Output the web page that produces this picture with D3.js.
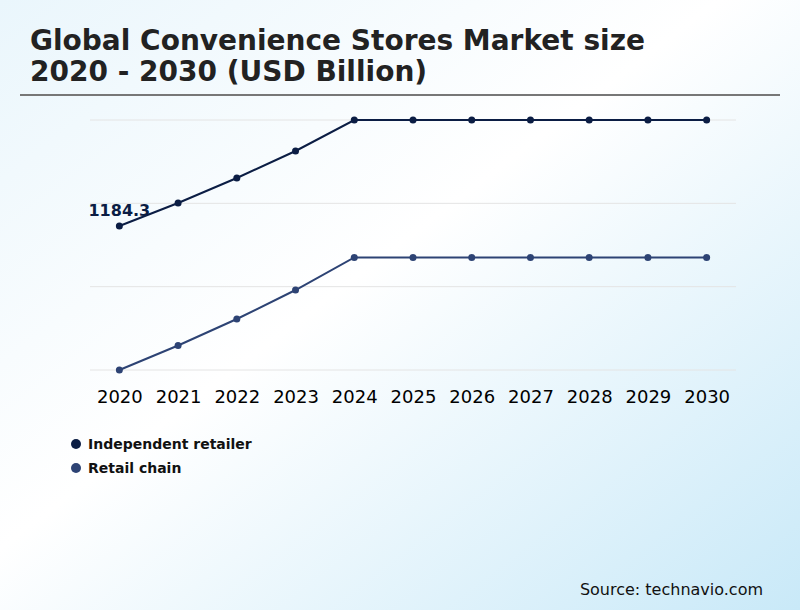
<!DOCTYPE html>
<html>
<head>
<meta charset="utf-8">
<script src="https://cdn.jsdelivr.net/npm/d3@7"></script>
<style>
  body { margin: 0; }
  svg { display: block; font-family: "DejaVu Sans", sans-serif; }
</style>
</head>
<body>
<script>
var svgW = 800;
var svgH = 610;

// data
var years = ["2020", "2021", "2022", "2023", "2024", "2025", "2026", "2027", "2028", "2029", "2030"];
var independent = [1184.3, 1230.3, 1280.3, 1334.3, 1396.3, 1396.3, 1396.3, 1396.3, 1396.3, 1396.3, 1396.3];
var retailChain = [896.3, 945.3, 998.3, 1056.3, 1121.3, 1121.3, 1121.3, 1121.3, 1121.3, 1121.3, 1121.3];
var seriesNames = ["Independent retailer", "Retail chain"];
var seriesColors = ["#0b1d44", "#2d4374"];

var series = [independent, retailChain];

var svg = d3.select("body")
  .append("svg")
  .attr("width", svgW)
  .attr("height", svgH);

// background gradient
var defs = svg.append("defs");
var grad = defs.append("linearGradient")
  .attr("id", "bg")
  .attr("x1", "0%").attr("y1", "0%")
  .attr("x2", "100%").attr("y2", "100%");
grad.append("stop").attr("offset", "0%").attr("stop-color", "#eaf6fc");
grad.append("stop").attr("offset", "45%").attr("stop-color", "#ffffff");
grad.append("stop").attr("offset", "100%").attr("stop-color", "#c9e9f8");

svg.append("rect")
  .attr("width", svgW)
  .attr("height", svgH)
  .attr("fill", "url(#bg)");

// title
var title = svg.append("text")
  .attr("x", 30)
  .attr("y", 50)
  .attr("font-size", "28px")
  .attr("font-weight", "bold")
  .attr("fill", "#222");
title.append("tspan").attr("x", 30).attr("dy", 0).text("Global Convenience Stores Market size");
title.append("tspan").attr("x", 30).attr("dy", 31).text("2020 - 2030 (USD Billion)");

svg.append("line")
  .attr("x1", 20).attr("x2", 780)
  .attr("y1", 95).attr("y2", 95)
  .attr("stroke", "#777")
  .attr("stroke-width", 2);

// scales
var x = d3.scalePoint()
  .domain(years)
  .range([90, 736])
  .padding(0.5);

var yMin = d3.min(retailChain);
var yMax = d3.max(independent);
var y = d3.scaleLinear()
  .domain([yMin, yMax])
  .range([370, 120]);

// grid lines (4 evenly spaced, no labels)
var gridVals = d3.range(4).map(function(i) {
  return yMin + i * (yMax - yMin) / 3;
});
svg.append("g")
  .selectAll("line")
  .data(gridVals)
  .enter()
  .append("line")
  .attr("x1", 90)
  .attr("x2", 736)
  .attr("y1", function(d) { return y(d); })
  .attr("y2", function(d) { return y(d); })
  .attr("stroke", "#e4e4e4")
  .attr("stroke-width", 1);

// x axis
var xAxis = svg.append("g")
  .attr("transform", "translate(0,370)")
  .call(d3.axisBottom(x).tickSize(0).tickPadding(20));
xAxis.select(".domain").remove();
xAxis.selectAll("text")
  .attr("font-size", "18px")
  .attr("font-family", "DejaVu Sans, sans-serif")
  .attr("fill", "#000");

// lines + points
var line = d3.line()
  .x(function(d, i) { return x(years[i]); })
  .y(function(d) { return y(d); });

series.forEach(function(s, k) {
  svg.append("path")
    .datum(s)
    .attr("d", line)
    .attr("fill", "none")
    .attr("stroke", seriesColors[k])
    .attr("stroke-width", 2);

  svg.append("g")
    .selectAll("circle")
    .data(s)
    .enter()
    .append("circle")
    .attr("cx", function(d, i) { return x(years[i]); })
    .attr("cy", function(d) { return y(d); })
    .attr("r", 3.5)
    .attr("fill", seriesColors[k]);
});

// first value label
svg.append("text")
  .attr("x", x(years[0]))
  .attr("y", y(independent[0]) - 10)
  .attr("text-anchor", "middle")
  .attr("font-size", "16px")
  .attr("font-weight", "bold")
  .attr("fill", seriesColors[0])
  .text(independent[0]);

// legend
var legend = svg.append("g")
  .selectAll("g")
  .data(seriesNames)
  .enter()
  .append("g")
  .attr("transform", function(d, i) { return "translate(76," + (444 + i * 24) + ")"; });
legend.append("circle")
  .attr("r", 5)
  .attr("fill", function(d, i) { return seriesColors[i]; });
legend.append("text")
  .attr("x", 12)
  .attr("y", 5)
  .attr("font-size", "14px")
  .attr("font-weight", "bold")
  .attr("fill", "#111")
  .text(function(d) { return d; });

// source
svg.append("text")
  .attr("x", 763)
  .attr("y", 595)
  .attr("text-anchor", "end")
  .attr("font-size", "16px")
  .attr("fill", "#111")
  .text("Source: technavio.com");
</script>
</body>
</html>
